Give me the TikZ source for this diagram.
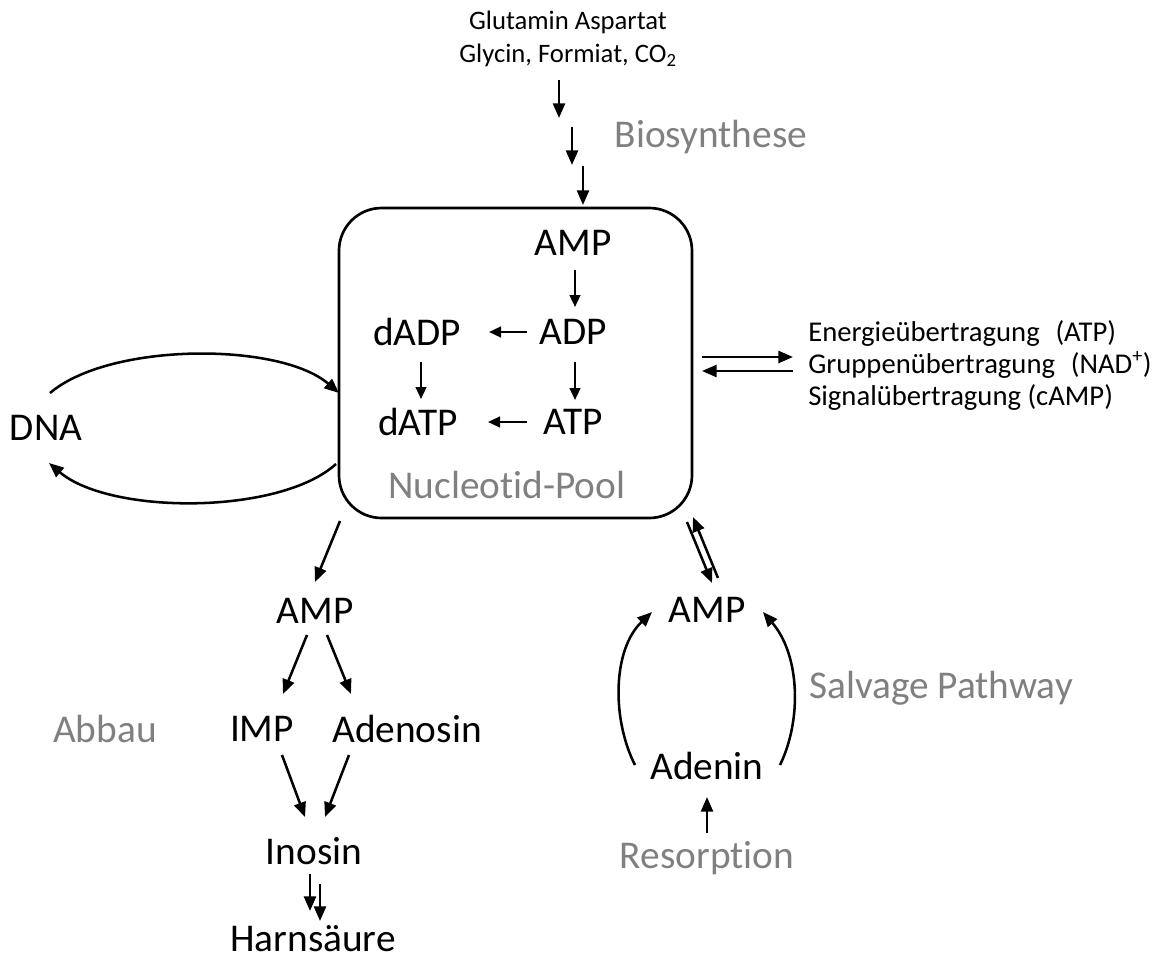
\documentclass[tikz,border=0pt]{standalone}
\usepackage{fontspec}
\setmainfont{Carlito}[Ligatures=NoCommon]
\usetikzlibrary{arrows.meta}
\definecolor{labgray}{RGB}{128,128,128}
\begin{document}
\begin{tikzpicture}[x=0.75pt,y=-0.75pt,
  big/.style={font=\fontsize{29.5}{34}\selectfont, inner sep=0pt},
  graylab/.style={big, text=labgray},
  small/.style={font=\fontsize{20}{25}\selectfont, inner sep=0pt},
  arr/.style={line width=1.9pt, -{Triangle[length=11pt,width=9pt]}},
  sarr/.style={line width=1.7pt, -{Triangle[length=9pt,width=8pt]}},
  pool/.style={draw, line width=2pt, rounded corners=32pt}]
\useasboundingbox (0,0) rectangle (1172,961);

% pool box
\draw[pool] (339,208) rectangle (692,518);
\node[graylab] (poollab) at (507,485) {Nucleot\kern0pt id-Pool};

% inputs
\node[small, align=center] (inputs) at (568,39) {Glutamin Aspartat\\Glycin, Formiat, CO\textsubscript{2}};
\node[graylab] (bios) at (711,137) {Biosynthese};
\coordinate (b1s) at (559,80);  \coordinate (b1e) at (559,118);
\coordinate (b2s) at (572,127); \coordinate (b2e) at (572,165);
\coordinate (b3s) at (583,166); \coordinate (b3e) at (583,205);
\draw[arr] (b1s) -- (b1e);
\draw[arr] (b2s) -- (b2e);
\draw[arr] (b3s) -- (b3e);

% inside pool
\node[big] (amp1) at (573,243) {AMP};
\node[big] (adp) at (573,332) {ADP};
\node[big] (atp) at (573,422) {ATP};
\node[big] (dadp) at (417,332) {dADP};
\node[big] (datp) at (418,422) {dATP};
\draw[sarr] (575,270) coordinate (p1) -- (575,307) coordinate (p2);
\draw[sarr] (575,362) coordinate (p3) -- (575,400) coordinate (p4);
\draw[sarr] (527,332) coordinate (p5) -- (489,332) coordinate (p6);
\draw[sarr] (527,422) coordinate (p7) -- (488,422) coordinate (p8);
\draw[sarr] (421,362) coordinate (p9) -- (421,399) coordinate (p10);

% right functions
\node[small, anchor=west, align=left, font=\fontsize{21.5}{24}\selectfont] (func) at (808,365)
  {Energieübertragung\hspace{0.55em}(ATP)\\Gruppenübertragung\hspace{0.55em}(NAD\textsuperscript{+})\\Signalübertragung (cAMP)};
\coordinate (r1s) at (702,357); \coordinate (r1e) at (793,357);
\coordinate (r2s) at (793,371); \coordinate (r2e) at (702,371);
\draw[arr] (r1s) -- (r1e);
\draw[arr] (r2s) -- (r2e);

% DNA
\node[big] (dna) at (46,428) {DNA};
\coordinate (d1s) at (50,393); \coordinate (d1e) at (339,393);
\coordinate (d2s) at (336,464); \coordinate (d2e) at (49,463);
\draw[arr] (d1s) .. controls (110,342) and (280,342) .. (d1e);
\draw[arr] (d2s) .. controls (280,515) and (110,515) .. (d2e);

% degradation
\node[big] (amp2) at (315,611) {AMP};
\node[big] (imp) at (262,729) {IMP};
\node[big] (adenosin) at (407,729) {Adenosin};
\node[big] (inosin) at (314,851) {Inosin};
\node[big] (harn) at (313,939) {Harnsäure};
\node[graylab] (abbau) at (105,729) {Abbau};
\draw[arr] (340,521) coordinate (a0) -- (315,582) coordinate (a1);
\draw[arr] (307,635) -- (283,694);
\draw[arr] (327,635) -- (351,694);
\draw[arr] (282,755) -- (305,817);
\draw[arr] (349,755) -- (325,817);
\draw[arr] (310,874) -- (310,911);
\draw[arr] (320,884) -- (320,921);

% salvage
\node[big] (amp3) at (707,610) {AMP};
\node[big] (adenin) at (707,766) {Adenin};
\node[graylab] (salv) at (941,688) {Salvage Pathway};
\node[graylab] (resorp) at (707,858) {Resorpt\kern0pt ion};
\draw[arr] (687,522) -- (712,583);
\draw[arr] (718,578) -- (693,517);
\draw[arr] (635,765) .. controls (612,720) and (612,650) .. (652,612);
\draw[arr] (780,765) .. controls (802,720) and (800,655) .. (763,612);
\draw[arr] (707,833) -- (707,797);
\end{tikzpicture}
\end{document}
